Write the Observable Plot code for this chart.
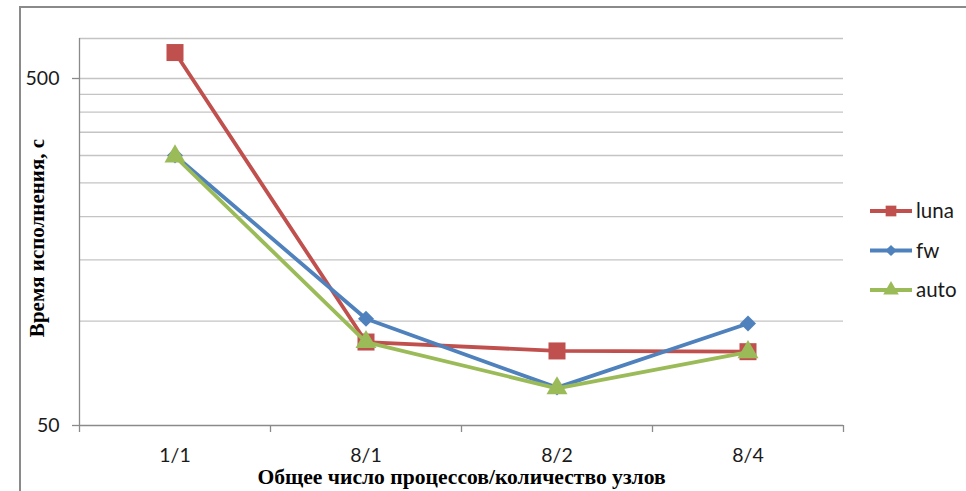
<!DOCTYPE html>
<html><head><meta charset="utf-8">
<script src="https://cdn.jsdelivr.net/npm/d3@7"></script>
<script src="https://cdn.jsdelivr.net/npm/@observablehq/plot@0.6"></script>
<style>
body{margin:0;background:#fff}
#wrap{position:relative;width:966px;height:491px;overflow:hidden;background:#fff}
#frame{position:absolute;left:19px;top:6px;width:1000px;height:1000px;border:2px solid #8a8a8a;box-sizing:border-box}
#wrap svg{position:absolute;left:0;top:0}
</style>
</head><body><div id="wrap"><div id="frame"></div></div>
<script>
const categories = ["1/1", "8/1", "8/2", "8/4"];
const seriesNames = ["luna", "fw", "auto"];
const luna = [594, 87, 82, 81.6];
const fw = [300, 101.5, 64.3, 98.4];
const auto = [298, 87, 64, 81.3];
const yTickLabels = [50, 500];
const yGrid = [100, 150, 200, 250, 300, 350, 400, 450, 500];
const yMax = 652;
const colors = ["#C0504D", "#4F81BD", "#9BBB59"];
const symbols = ["square", "diamond2", "triangle"];
const markerR = [9.6, 7.2, 7.8];
const yTitle = "Время исполнения, с";
const xTitle = "Общее число процессов/количество узлов";

const seriesValues = {luna, fw, auto};
const rows = seriesNames.flatMap(s => seriesValues[s].map((v, i) => ({series: s, i, v})));

const sans = "Lato, 'Open Sans', sans-serif";
const serif = "'Liberation Serif', 'DejaVu Serif', serif";

const marks = [
  Plot.ruleY(yGrid.concat([yMax]), {stroke: "#c4c4c4", strokeWidth: 1.3}),
  Plot.ruleX([-0.5], {stroke: "#8a8a8a", strokeWidth: 1.3}),
  Plot.ruleY([50], {stroke: "#8a8a8a", strokeWidth: 1.3}),
  Plot.axisY({ticks: yTickLabels, tickSize: 7, tickFormat: () => "", stroke: "#8a8a8a", strokeWidth: 1.3, label: null}),
  Plot.axisY({ticks: yTickLabels, tickSize: 0, tickPadding: 20, fill: "#1a1a1a", fontSize: 19.5, fontFamily: sans, label: null}),
  Plot.axisX({ticks: [-0.5, 0.5, 1.5, 2.5, 3.5], tickSize: 7, tickFormat: () => "", stroke: "#8a8a8a", strokeWidth: 1.3, label: null}),
  Plot.axisX({ticks: [0, 1, 2, 3], tickSize: 0, tickPadding: 23, tickFormat: i => categories[i], fill: "#1a1a1a", fontSize: 19.5, fontFamily: sans, label: null}),
  Plot.text([yTitle], {frameAnchor: "left", textAnchor: "middle", lineAnchor: "middle", dx: -42, dy: 6, rotate: -90, fontSize: 21, fontWeight: "bold", fontFamily: serif, fill: "#000"}),
  Plot.text([xTitle], {frameAnchor: "bottom", textAnchor: "middle", lineAnchor: "middle", dy: 52, fontSize: 21.6, fontWeight: "bold", fontFamily: serif, fill: "#000"})
];
seriesNames.forEach((s, k) => {
  const d = rows.filter(r => r.series === s);
  marks.push(Plot.line(d, {x: "i", y: "v", stroke: colors[k], strokeWidth: 3.8}));
  marks.push(Plot.dot(d, {x: "i", y: "v", fill: colors[k], stroke: "none", symbol: symbols[k], r: markerR[k]}));
});

const chart = Plot.plot({
  width: 966, height: 491,
  marginLeft: 79, marginRight: 123, marginTop: 38, marginBottom: 66,
  style: {background: "transparent"},
  x: {type: "linear", domain: [-0.5, 3.5], axis: null},
  y: {type: "log", domain: [50, yMax], axis: null},
  marks
});
const wrap = document.getElementById("wrap");
wrap.appendChild(chart);

// legend
const leg = d3.select(wrap).append("svg").attr("width", 966).attr("height", 491)
  .style("pointer-events", "none");
seriesNames.forEach((s, k) => {
  const g = leg.append("g").attr("transform", `translate(870,${211 + k * 39.5})`);
  g.append("line").attr("x1", 0).attr("x2", 42).attr("stroke", colors[k]).attr("stroke-width", 3.8);
  const symType = [d3.symbolSquare, d3.symbolDiamond2, d3.symbolTriangle][k];
  const size = [115, 80, 105][k];
  g.append("path").attr("d", d3.symbol(symType, size)()).attr("transform", "translate(21,0)").attr("fill", colors[k]);
  g.append("text").attr("x", 46).attr("y", 0).attr("dy", "0.35em").attr("font-size", 20.5)
    .attr("font-family", sans).attr("fill", "#1a1a1a").text(s);
});
</script>
</body></html>
